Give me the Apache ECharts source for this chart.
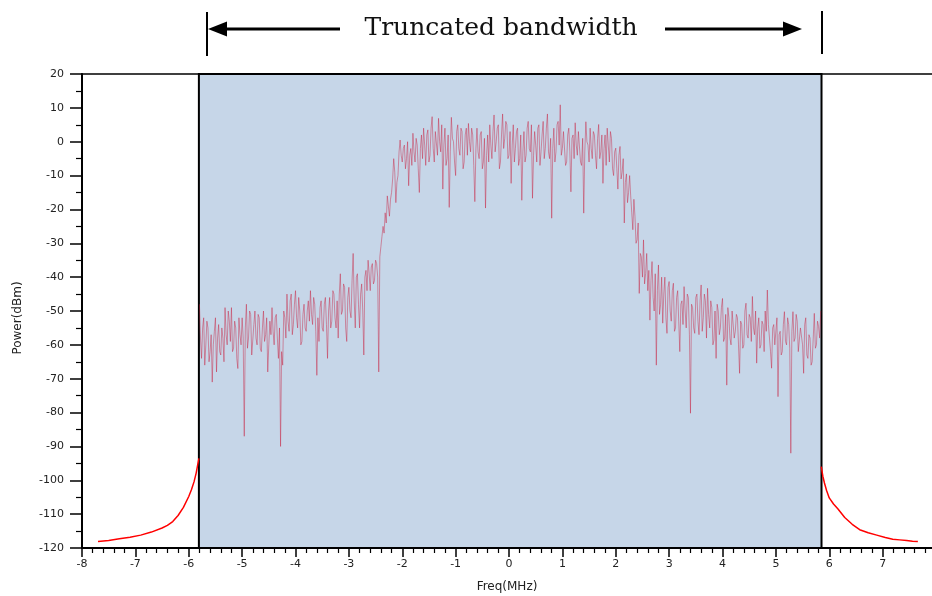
<!DOCTYPE html>
<html>
<head>
<meta charset="utf-8">
<script src="https://cdn.jsdelivr.net/npm/echarts@6/dist/echarts.min.js"></script>
<style>html,body{margin:0;padding:0;background:#fff}#chart{width:932px;height:596px}</style>
</head>
<body>
<div id="chart"></div>
<script>
// ---- data ----
const titleText = 'Truncated bandwidth';
const xName = 'Freq(MHz)';
const yName = 'Power(dBm)';
const xRange = [-8, 8];
const yRange = [-120, 20];
const bandEdges = [-5.81, 5.855];

// in-band spectrum: uniform FFT frequency grid
const bandFreqStart = -5.80;
const bandFreqStep = 0.02;
const bandPower = [
  -48,-58,-64,-55,-52,-66,-60,-53,-55,-65,-62,-57,-71,-60,-56,-52,-68,-58,-54,-62,-63,-55,-58,-65,-49,-57,-60,-50,-53,-59,-49,-62,-61,-53,-55,-64,-67,-52,-57,-60,-52,-58,-87,-55,-48,-61,-58,-50,-51,-63,
  -63,-54,-50,-58,-60,-51,-52,-61,-62,-55,-50,-59,-57,-52,-68,-60,-53,-57,-49,-56,-60,-52,-51,-58,-64,-55,-90,-62,-66,-50,-52,-58,-45,-53,-56,-47,-45,-57,-54,-48,-44,-52,-55,-46,-50,-60,-59,-51,-48,-55,
  -56,-50,-47,-53,-44,-51,-54,-46,-48,-56,-69,-52,-59,-49,-47,-55,-56,-48,-46,-54,-64,-50,-46,-55,-53,-44,-45,-52,-55,-47,-58,-45,-39,-51,-50,-42,-43,-55,-59,-46,-43,-50,-52,-41,-33,-47,-55,-40,-39,-48,
  -55,-45,-42,-50,-63,-40,-38,-44,-35,-39,-44,-37,-36,-42,-41,-35,-36,-40,-68,-34,-31,-28,-25,-27,-21,-24,-16,-19,-22,-17,-15,-11,-5,-9,-18,-12,-10,-3,0.5,-4,-6,-2,-1,-8,-5,0,-13,-4,-2,-7,
  2.5,-3,-6,1,-1,-8,-15,-2,2,-5,4,-1,-7,2,3.5,-6,-4,4,7.4,-2,-6,3,3,-4,6.9,0,-3,5,-14,-1,4,-7,-5,2,-19.4,-3,7.2,1,0,-6,-10,3,5,-2,-4,4,3,-8,-6,2,
  4,-4,5.4,0,-3,4,2,-7,-17.7,-2,4,-3,-5,2,3,-8,-6,1,-19.6,-4,2,-6,5,-1,-5,3,7.9,-3,0,4,5,-8,-6,2,8.2,-2,1,6,5,-5,-4,3,-12.3,-1,5,-6,-2,3,4,-7,
  -5,2,-17.3,-3,3,-6,-4,4,6,-2,-3,5,-16.7,-4,3,-1,-6,4,5,-7,-3,2,6,-5,-2,4,8.2,-3,-5,1,-22.6,-2,4,-6,-3,5,6,-1,10.9,-4,-2,3,3,-7,-6,2,4,-3,-14.8,1,
  2,-5,5.6,-1,-4,3,3,-6,-7,1,-21.1,-3,5.9,0,-1,-6,4,-2,-5,3,2,-4,-8,1,5.1,-5,-3,2,-12.3,-2,2,-7,4,-1,-6,3,1,-8,-10,-3,-1.9,-8,-14,-4,-1.4,-11,-9,-5,-24,-12,
  -9.5,-18,-15,-10,-16,-21,-26,-17,-22,-30,-29,-24,-44.8,-33,-34,-40,-29,-42,-38.9,-33,-44,-38,-52.7,-41,-35.4,-46,-50,-39,-66,-44,-36.4,-51,-48,-40,-53.6,-45,-40,-52,-56.6,-43,-41.3,-50,-53,-44,-41.8,-56,-55,-46,-44,-53,
  -62,-48,-47,-54,-42.8,-50,-55,-45,-46,-57,-80.2,-48,-49,-55,-56.6,-46,-45,-53,-57,-47,-42.3,-56,-52,-45,-47,-58,-43.3,-51,-55,-47,-49,-60,-58.6,-50,-64,-48,-50,-57,-55,-49,-46.3,-59,-58,-51,-71.9,-49,-52,-58,-60,-50,
  -49.7,-58,-56,-51,-52,-60,-68.4,-53,-54,-61,-60,-50,-47.7,-57,-58,-51,-52,-59,-45.7,-55,-57,-50,-65.4,-55,-52,-61,-60,-53,-54,-62,-50,-56,-43.8,-54,-58,-62,-66.9,-55,-54,-60,-60,-52,-75.3,-57,-56,-63,-62,-54,-50.2,-59,
  -60,-52,-54,-61,-92,-56,-50.2,-59,-58,-51,-53,-62,-62,-55,-55,-60,-68.4,-54,-52,-63,-64,-57,-58,-66,-65,-58,-50.7,-61,-60,-53,-54.6,-58,-50
];

const leftTailFreq  = [-7.70,-7.50,-7.30,-7.10,-6.90,-6.70,-6.50,-6.40,-6.30,-6.20,-6.10,-6.00,-5.95,-5.90,-5.86,-5.83,-5.81];
const leftTailPower = [-118.1,-117.8,-117.3,-116.8,-116.2,-115.3,-114.1,-113.3,-112.2,-110.4,-108.0,-104.8,-102.8,-100.4,-97.8,-95.2,-93.5];
const rightTailFreq  = [5.85,5.88,5.91,5.95,6.00,6.08,6.16,6.29,6.43,6.57,6.73,6.89,7.05,7.19,7.32,7.45,7.56,7.66];
const rightTailPower = [-96.0,-98.8,-100.8,-103.0,-105.2,-107.0,-108.4,-111.0,-113.0,-114.6,-115.5,-116.2,-116.9,-117.4,-117.6,-117.8,-118.0,-118.1];

// ---- build ----
const bandData = bandPower.map((v, i) => [+(bandFreqStart + i * bandFreqStep).toFixed(2), v]);
const leftTail = leftTailFreq.map((f, i) => [f, leftTailPower[i]]);
const rightTail = rightTailFreq.map((f, i) => [f, rightTailPower[i]]);

const chart = echarts.init(document.getElementById('chart'), null, {renderer: 'canvas'});
const labelFont = {fontFamily: 'DejaVu Sans', fontSize: 11, color: '#222'};

chart.setOption({
  animation: false,
  backgroundColor: '#fff',
  grid: {left: 82, right: -4, top: 74, bottom: 48, containLabel: false, outerBoundsMode: 'none'},
  xAxis: [{
    type: 'value', min: xRange[0], max: xRange[1], interval: 1, position: 'bottom',
    name: xName, nameLocation: 'middle', nameGap: 33,
    nameTextStyle: {fontFamily: 'DejaVu Sans', fontSize: 12, color: '#222', padding: [0, 4, 0, 0]},
    axisLine: {show: true, onZero: false, lineStyle: {color: '#000', width: 2}},
    axisTick: {show: true, inside: false, length: 9, lineStyle: {color: '#000', width: 1.5}},
    minorTick: {show: true, splitNumber: 5, length: 5, lineStyle: {color: '#000', width: 1.2}},
    axisLabel: Object.assign({margin: 11, showMaxLabel: false}, labelFont),
    splitLine: {show: false}, minorSplitLine: {show: false}
  }, {
    type: 'value', min: xRange[0], max: xRange[1], position: 'top',
    axisLine: {show: true, onZero: false, lineStyle: {color: '#000', width: 1.5}},
    axisTick: {show: false}, axisLabel: {show: false}, splitLine: {show: false}
  }],
  yAxis: {
    type: 'value', min: yRange[0], max: yRange[1], interval: 10,
    name: yName, nameLocation: 'middle', nameGap: 58, nameRotate: 90,
    nameTextStyle: {fontFamily: 'DejaVu Sans', fontSize: 12, color: '#222', padding: [0, 14, 0, 0]},
    axisLine: {show: true, onZero: false, lineStyle: {color: '#000', width: 2}},
    axisTick: {show: true, inside: false, length: 12, lineStyle: {color: '#000', width: 1.5}},
    minorTick: {show: true, splitNumber: 2, length: 6, lineStyle: {color: '#000', width: 1.2}},
    axisLabel: Object.assign({margin: 18}, labelFont),
    splitLine: {show: false}
  },
  series: [{
    name: 'box', type: 'line', z: 1, data: [[bandEdges[0], yRange[0]]], symbol: 'none',
    lineStyle: {width: 0}, silent: true,
    markArea: {
      silent: true,
      itemStyle: {color: '#c6d6e8', borderColor: '#000', borderWidth: 2},
      data: [[{xAxis: bandEdges[0], yAxis: yRange[1]}, {xAxis: bandEdges[1], yAxis: yRange[0]}]]
    }
  }, {
    name: 'band', type: 'line', z: 3, data: bandData, symbol: 'none', silent: true,
    lineStyle: {color: 'rgba(200,30,60,0.75)', width: 0.6}
  }, {
    name: 'leftTail', type: 'line', z: 4, data: leftTail, symbol: 'none', silent: true,
    lineStyle: {color: '#ff0000', width: 1.5}
  }, {
    name: 'rightTail', type: 'line', z: 4, data: rightTail, symbol: 'none', silent: true,
    lineStyle: {color: '#ff0000', width: 1.5}
  }],
  graphic: [
    {type: 'line', shape: {x1: 207, y1: 12, x2: 207, y2: 56}, style: {stroke: '#000', lineWidth: 2}},
    {type: 'line', shape: {x1: 822, y1: 11, x2: 822, y2: 54}, style: {stroke: '#000', lineWidth: 2}},
    {type: 'line', shape: {x1: 224, y1: 29, x2: 340, y2: 29}, style: {stroke: '#000', lineWidth: 3}},
    {type: 'polygon', shape: {points: [[208, 29], [227, 21.5], [227, 36.5]]}, style: {fill: '#000'}},
    {type: 'line', shape: {x1: 665, y1: 29, x2: 786, y2: 29}, style: {stroke: '#000', lineWidth: 3}},
    {type: 'polygon', shape: {points: [[802, 29], [783, 21.5], [783, 36.5]]}, style: {fill: '#000'}},
    {type: 'text', x: 501, y: 28, style: {text: titleText, fontFamily: 'DejaVu Serif', fontSize: 25, fill: '#111', align: 'center', verticalAlign: 'middle'}}
  ]
});
</script>
</body>
</html>
